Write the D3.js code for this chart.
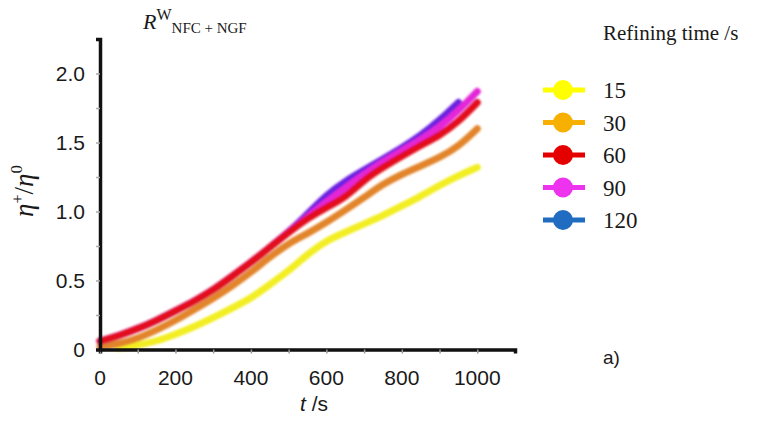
<!DOCTYPE html>
<html lang="en">
<head>
  <meta charset="utf-8" />
  <script src="https://d3js.org/d3.v7.min.js"></script>
  <style>
    body { margin: 0; background: #fff; }
    .tick-label { font-family: "Liberation Sans", Arial, sans-serif; font-size: 21px; fill: #1a1a1a; }
    .serif { font-family: "Liberation Serif", "Times New Roman", serif; fill: #1a1a1a; }
  </style>
</head>
<body>
  <div id="visu"></div>
  <script>
    const width = 765, height = 424;

    // temps (s) et valeurs eta+/eta0
    const times = [0, 50, 100, 150, 200, 250, 300, 350, 400, 450, 500, 550, 600, 650, 700, 750, 800, 850, 900, 950, 1000];
    const refiningTimes = ["15", "30", "60", "90", "120"];
    const serie15  = [null, 0.01, 0.03, 0.06, 0.11, 0.165, 0.23, 0.30, 0.37, 0.47, 0.57, 0.69, 0.79, 0.85, 0.91, 0.97, 1.04, 1.11, 1.19, 1.26, 1.32];
    const serie30  = [0.02, 0.04, 0.08, 0.14, 0.21, 0.29, 0.37, 0.46, 0.56, 0.67, 0.77, 0.84, 0.92, 1.01, 1.10, 1.20, 1.27, 1.33, 1.39, 1.47, 1.60];
    const serie60  = [0.06, 0.10, 0.15, 0.21, 0.28, 0.35, 0.43, 0.53, 0.63, 0.74, 0.85, 0.95, 1.03, 1.10, 1.23, 1.32, 1.40, 1.48, 1.55, 1.65, 1.79];
    const serie90  = [0.06, 0.10, 0.15, 0.21, 0.28, 0.35, 0.43, 0.53, 0.63, 0.74, 0.85, 0.96, 1.07, 1.17, 1.27, 1.36, 1.44, 1.52, 1.61, 1.73, 1.87];
    const serie120 = [0.06, 0.10, 0.15, 0.21, 0.28, 0.35, 0.43, 0.53, 0.63, 0.74, 0.85, 0.98, 1.12, 1.22, 1.30, 1.38, 1.46, 1.55, 1.66, 1.79, null];
    const legendColors = ["#ffff00", "#f7b000", "#e50000", "#ee33ee", "#1f6cc0"];
    const lineColors   = ["#f2ee22", "#e2842a", "#e3101c", "#e428d8", "#6a22e0"];

    const xTicks = [0, 200, 400, 600, 800, 1000];
    const yTicks = [0, 0.5, 1.0, 1.5, 2.0];

    const svg = d3.select("#visu").append("svg")
      .attr("width", width)
      .attr("height", height);

    const defs = svg.append("defs");
    defs.append("filter").attr("id", "flou")
      .append("feGaussianBlur").attr("stdDeviation", 0.8);

    const x = d3.scaleLinear().domain([0, 1100]).range([100, 515]);
    const y = d3.scaleLinear().domain([0, 2.25]).range([349.5, 39]);

    const series = [serie15, serie30, serie60, serie90, serie120].map((vals, i) => ({
      name: refiningTimes[i],
      color: lineColors[i],
      points: times.map((t, j) => ({ t, v: vals[j] }))
    }));

    const line = d3.line()
      .curve(d3.curveBasis)
      .x(d => x(d.t))
      .y(d => y(d.v));

    // ordre de dessin : le rouge au-dessus
    const drawOrder = [0, 1, 4, 3, 2];
    svg.append("g").attr("filter", "url(#flou)")
      .selectAll("path")
      .data(drawOrder.map(i => series[i]))
      .enter().append("path")
      .attr("d", d => line(d.points.filter(p => p.v !== null)))
      .attr("fill", "none")
      .attr("stroke", d => d.color)
      .attr("stroke-width", 7)
      .attr("stroke-linecap", "round")
      .attr("stroke-linejoin", "round");

    // axes
    const xAxis = svg.append("g")
      .attr("transform", `translate(0,${y(0)})`)
      .call(d3.axisBottom(x).tickValues(d3.range(0, 1100, 100)).tickSize(4).tickFormat(""));
    xAxis.select(".domain").attr("stroke", "#111").attr("stroke-width", 3.5);
    xAxis.selectAll(".tick line").attr("stroke", "#999").attr("stroke-width", 1.5);

    const yAxis = svg.append("g")
      .attr("transform", `translate(${x(0)},0)`)
      .call(d3.axisLeft(y).tickValues([0.25, 0.5, 0.75, 1.0, 1.25, 1.5, 1.75, 2.0]).tickSize(4).tickFormat(""));
    yAxis.select(".domain").attr("stroke", "#111").attr("stroke-width", 3.5);
    yAxis.selectAll(".tick line").attr("stroke", "#aaa").attr("stroke-width", 1.5);

    svg.append("g").selectAll("text")
      .data(xTicks)
      .enter().append("text")
      .attr("class", "tick-label")
      .attr("x", d => x(d))
      .attr("y", y(0) + 35)
      .attr("text-anchor", "middle")
      .text(d => d);

    svg.append("g").selectAll("text")
      .data(yTicks)
      .enter().append("text")
      .attr("class", "tick-label")
      .attr("x", x(0) - 15)
      .attr("y", d => y(d) + 7.5)
      .attr("text-anchor", "end")
      .text(d => d === 0 ? "0" : d.toFixed(1));

    // titres d'axes
    svg.append("text")
      .attr("class", "tick-label")
      .attr("x", 314)
      .attr("y", 411)
      .attr("text-anchor", "middle")
      .html('<tspan font-style="italic">t</tspan> /s');

    svg.append("text")
      .attr("class", "serif")
      .attr("transform", "translate(33,191) rotate(-90)")
      .attr("text-anchor", "middle")
      .style("font-size", "27px")
      .html('<tspan font-style="italic">η</tspan><tspan dy="-10" font-size="16">+</tspan><tspan dy="10">/</tspan><tspan font-style="italic">η</tspan><tspan dy="-11" font-size="17">0</tspan>');

    svg.append("text")
      .attr("class", "serif")
      .attr("x", 143)
      .attr("y", 29)
      .style("font-size", "22px")
      .html('<tspan font-style="italic">R</tspan><tspan dy="-9" font-size="16">W</tspan><tspan dy="13" font-size="15">NFC + NGF</tspan>');

    svg.append("text")
      .attr("class", "tick-label")
      .attr("x", 603)
      .attr("y", 364)
      .style("font-size", "19px")
      .text("a)");

    // légende
    svg.append("text")
      .attr("class", "serif")
      .attr("x", 603)
      .attr("y", 40)
      .style("font-size", "21px")
      .text("Refining time /s");

    const legend = svg.append("g").selectAll("g")
      .data(refiningTimes)
      .enter().append("g")
      .attr("transform", (d, i) => `translate(0,${90 + i * 32.5})`);

    legend.append("line")
      .attr("x1", 543).attr("x2", 585)
      .attr("stroke", (d, i) => legendColors[i])
      .attr("stroke-width", 5);

    legend.append("circle")
      .attr("cx", 563)
      .attr("r", 10)
      .attr("fill", (d, i) => legendColors[i]);

    legend.append("text")
      .attr("class", "serif")
      .attr("x", 603)
      .attr("y", 8)
      .style("font-size", "23px")
      .text(d => d);
  </script>
</body>
</html>
